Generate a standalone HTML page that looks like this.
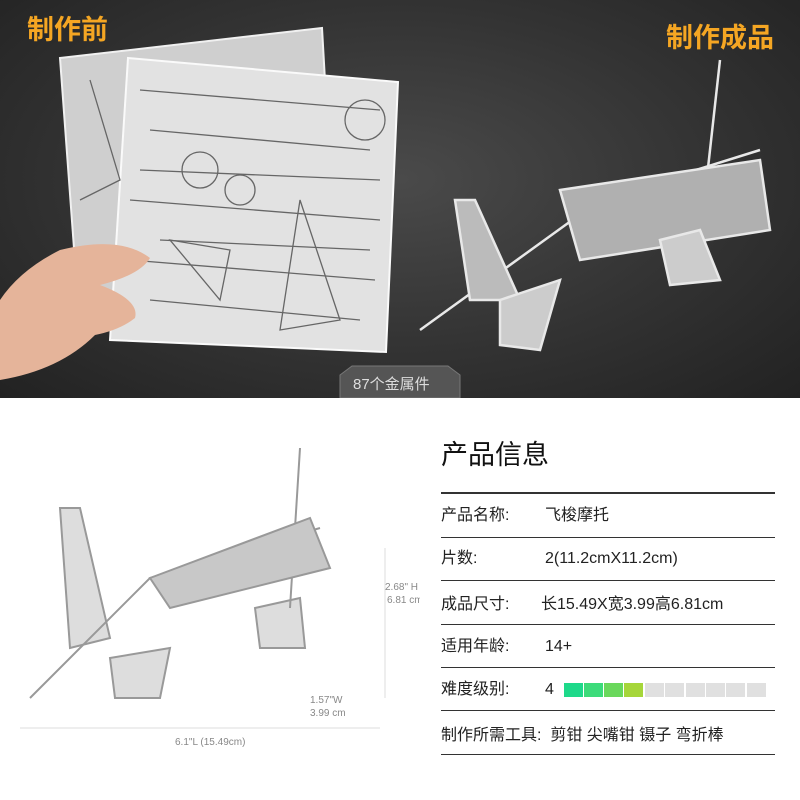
<!DOCTYPE html>
<html><head><meta charset="utf-8"><style>
body{margin:0;width:800px;height:800px;position:relative;overflow:hidden;background:#fff;font-family:"Liberation Sans","Noto Sans CJK SC",sans-serif}
.top{position:absolute;left:0;top:0;width:800px;height:398px;background:radial-gradient(ellipse at 50% 45%,#4a4a4a 0%,#333 55%,#222 100%)}
.abs{position:absolute}
.lab{color:#f5a623;font-weight:bold;font-size:27px;line-height:32px}
.row{position:absolute;left:441px;font-size:16px;color:#222;line-height:20px;height:20px;white-space:nowrap;display:flex}
.row .k{display:inline-block;width:104px}
.line{position:absolute;left:441px;width:334px;height:1px;background:#333}
.seg{position:absolute;top:683px;width:19px;height:14px;background:#e0e0e0}
</style></head><body>
<div class="top">
<svg width="800" height="398" class="abs" style="left:0;top:0">
 <polygon points="60,58 322,28 338,310 80,330" fill="#cfcfcf" stroke="#f0f0f0" stroke-width="2"/>
 <polygon points="128,58 398,82 386,352 110,340" fill="#e2e2e2" stroke="#fafafa" stroke-width="2"/>
 <g stroke="#666" stroke-width="1.3" fill="none">
  <path d="M140,90 L380,110 M150,130 L370,150 M130,200 L380,220 M130,260 L375,280 M150,300 L360,320 M140,170 L380,180 M160,240 L370,250"/>
  <circle cx="200" cy="170" r="18"/><circle cx="240" cy="190" r="15"/><circle cx="365" cy="120" r="20"/>
  <path d="M300,200 L340,320 L280,330 Z M170,240 L230,250 L220,300 Z M90,80 L120,180 L80,200"/>
 </g>
 <path d="M0,300 Q20,270 60,250 Q120,235 150,258 Q140,275 100,285 Q140,300 135,318 Q120,330 95,335 Q60,370 0,380 Z" fill="#e5b49a"/>
 <g stroke="#e8e8e8" stroke-width="2.5" fill="none">
  <path d="M420,330 L600,200 L760,150"/><path d="M460,200 L470,300"/><path d="M720,60 L700,240"/>
  <path d="M560,190 L760,160 L770,230 L580,260 Z" fill="#b0b0b0"/>
  <polygon points="455,200 475,200 520,300 470,300" fill="#bbb"/>
  <polygon points="500,300 560,280 540,350 500,345" fill="#ccc"/>
  <polygon points="660,240 700,230 720,280 670,285" fill="#ccc"/>
 </g>
 <path d="M340,375 L352,366 L448,366 L460,375 L460,398 L340,398 Z" fill="#555" stroke="#777"/>
</svg>
<div class="abs lab" style="left:27px;top:14px">制作前</div>
<div class="abs lab" style="left:666px;top:22px">制作成品</div>
<div class="abs" style="left:353px;top:375px;color:#ddd;font-size:15px;line-height:20px">87个金属件</div>
</div>
<svg width="420" height="400" class="abs" style="left:0;top:398px">
 <g stroke="#999" stroke-width="2" fill="#ddd">
  <polygon points="60,110 80,110 110,240 70,250"/>
  <polygon points="110,260 170,250 160,300 115,300"/>
  <polygon points="255,210 300,200 305,250 260,250"/>
  <path d="M300,50 L290,210" fill="none"/><path d="M30,300 L150,180 L320,130" fill="none"/>
  <path d="M150,180 L310,120 L330,170 L170,210 Z" fill="#c8c8c8"/>
 </g>
 <g stroke="#ddd" fill="none"><path d="M20,330 L380,330 M385,150 L385,300"/></g>
 <text x="175" y="347" font-size="10" fill="#888">6.1"L (15.49cm)</text>
 <text x="385" y="192" font-size="10" fill="#888">2.68" H</text>
 <text x="387" y="205" font-size="10" fill="#888">6.81 cm</text>
 <text x="310" y="305" font-size="10" fill="#888">1.57"W</text>
 <text x="310" y="318" font-size="10" fill="#888">3.99 cm</text>
</svg>
<div class="abs" style="left:441px;top:438px;font-size:27px;line-height:34px;color:#111">产品信息</div>
<div class="line" style="top:492px;height:2px"></div>
<div class="row" style="top:506px"><span class="k">产品名称:</span><span>飞梭摩托</span></div>
<div class="line" style="top:537px"></div>
<div class="row" style="top:549px"><span class="k">片数:</span><span>2(11.2cmX11.2cm)</span></div>
<div class="line" style="top:580px"></div>
<div class="row" style="top:595px"><span class="k" style="width:100px">成品尺寸:</span><span>长15.49X宽3.99高6.81cm</span></div>
<div class="line" style="top:624px"></div>
<div class="row" style="top:637px"><span class="k">适用年龄:</span><span>14+</span></div>
<div class="line" style="top:667px"></div>
<div class="row" style="top:680px"><span class="k">难度级别:</span><span>4</span></div>
<div class="seg" style="left:564px;background:#1ed98a"></div>
<div class="seg" style="left:584px;background:#3cdb7a"></div>
<div class="seg" style="left:604px;background:#6ad85c"></div>
<div class="seg" style="left:624px;background:#a6d63a"></div>
<div class="seg" style="left:645px"></div><div class="seg" style="left:665px"></div><div class="seg" style="left:686px"></div><div class="seg" style="left:706px"></div><div class="seg" style="left:726px"></div><div class="seg" style="left:747px"></div>
<div class="line" style="top:710px"></div>
<div class="row" style="top:726px"><span>制作所需工具:&nbsp;&nbsp;剪钳 尖嘴钳 镊子 弯折棒</span></div>
<div class="line" style="top:754px"></div>
</body></html>
